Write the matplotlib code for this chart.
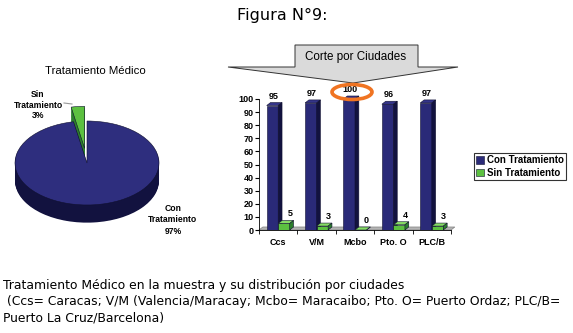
import numpy as np
import matplotlib
matplotlib.use("Agg")
import matplotlib.pyplot as plt
from matplotlib.patches import Polygon, Ellipse

# data
pie_labels = ['Sin\nTratamiento\n3%', 'Con\nTratamiento\n97%']
pie_values = [3, 97]
cities = ['Ccs', 'V/M', 'Mcbo', 'Pto. O', 'PLC/B']
con_trat = [95, 97, 100, 96, 97]
sin_trat = [5, 3, 0, 4, 3]
yticks = list(range(0, 101, 10))

W, H = 573, 333
navy, navy_side, navy_top = '#2a2a78', '#12123f', '#34348a'
pie_top = '#2e2e7e'
green, green_side, green_top = '#5cc040', '#2c7e2c', '#86dc64'

fig = plt.figure(figsize=(W / 100, H / 100), dpi=100)
fig.patch.set_facecolor('white')


def px_axes(x0, y0, x1, y1, **kw):
    return fig.add_axes([x0 / W, 1 - y1 / H, (x1 - x0) / W, (y1 - y0) / H], **kw)


# ---- 3D-looking pie ----
# 1 unit in x = 72 px, 1 unit in y = 42 px, centre at (87, 163)
pax = px_axes(87 - 1.2 * 72, 163 - 1.4 * 42, 87 + 1.2 * 72, 163 + 1.6 * 42)
explode = [0.35, 0]
for d in np.linspace(0.42, 0.02, 22):
    pax.pie(pie_values, colors=[green_side, navy_side], startangle=90, counterclock=True,
            explode=explode, center=(0, -d), radius=1,
            wedgeprops=dict(linewidth=0))
pax.pie(pie_values, colors=[green, pie_top], startangle=90, counterclock=True,
        explode=explode, center=(0, 0), radius=1,
        wedgeprops=dict(linewidth=0.4, edgecolor='#101030'))
pax.set_aspect('auto')
pax.set_xlim(-1.2, 1.2)
pax.set_ylim(-1.6, 1.4)
pax.axis('off')

# ---- 3D-looking bar chart ----
bax = px_axes(259, 99, 451, 230)
x = np.arange(len(cities))
w = 0.3
dx, dy = 0.1, 2.3

# floor
bax.add_patch(Polygon([(-0.5, 0), (4.5, 0), (4.5 + dx, dy), (-0.5 + dx, dy)],
                      closed=True, facecolor='#b4b4b4', edgecolor='#808080', lw=0.5,
                      clip_on=False, zorder=1))


def bar3d(xs, hs, front, side, top, label):
    bars = bax.bar(xs, hs, width=w, color=front, edgecolor='#101030', lw=0.4,
                   zorder=3, label=label)
    for xc, h in zip(xs, hs):
        x0, x1 = xc - w / 2, xc + w / 2
        bax.add_patch(Polygon([(x0, h), (x0 + dx, h + dy), (x1 + dx, h + dy), (x1, h)],
                              closed=True, facecolor=top, edgecolor='#101030', lw=0.4,
                              clip_on=False, zorder=3))
        bax.add_patch(Polygon([(x1, 0), (x1 + dx, dy), (x1 + dx, h + dy), (x1, h)],
                              closed=True, facecolor=side, edgecolor='#101030', lw=0.4,
                              clip_on=False, zorder=3))
    return bars


bar3d(x - w / 2, con_trat, navy, navy_side, navy_top, 'Con Tratamiento')
bar3d(x + w / 2, sin_trat, green, green_side, green_top, 'Sin Tratamiento')

for xc, h in zip(x, con_trat):
    bax.text(xc - w / 2 + 0.02, h + dy + 1.5, str(h), ha='center', va='bottom',
             fontsize=6.5, fontweight='bold', family='Liberation Sans', zorder=5)
for xc, h in zip(x, sin_trat):
    bax.text(xc + w / 2 + dx + 0.05, h + dy + 1.5, str(h), ha='center', va='bottom',
             fontsize=6.5, fontweight='bold', family='Liberation Sans', zorder=5)

bax.set_xlim(-0.5, 4.5)
bax.set_ylim(0, 100)
bax.set_yticks(yticks)
bax.set_xticks(x)
bax.set_xticklabels(cities)
bax.set_xticks(np.arange(-0.5, 5, 1), minor=True)
bax.tick_params(axis='x', which='major', length=0, pad=6)
bax.tick_params(axis='x', which='minor', length=3, direction='out')
bax.tick_params(axis='y', length=3, pad=1)
for lab in bax.get_xticklabels() + bax.get_yticklabels():
    lab.set_fontsize(6.5)
    lab.set_fontweight('bold')
    lab.set_family('Liberation Sans')
for s in ['top', 'right']:
    bax.spines[s].set_visible(False)
bax.spines['left'].set_linewidth(0.6)
bax.spines['bottom'].set_linewidth(0.6)
bax.patch.set_alpha(0)

leg = bax.legend(loc='upper left', bbox_to_anchor=(469 / W, 1 - 148 / H),
                 bbox_transform=fig.transFigure, frameon=True, fancybox=False,
                 prop=dict(family='Liberation Sans', weight='bold', size=7),
                 handlelength=0.8, handleheight=0.8, handletextpad=0.3,
                 borderpad=0.25, labelspacing=0.25)
leg.get_frame().set_edgecolor('black')
leg.get_frame().set_linewidth(0.8)

# ---- overlay for titles, callout and caption ----
ov = fig.add_axes([0, 0, 1, 1], zorder=10)
ov.set_xlim(0, W)
ov.set_ylim(H, 0)
ov.axis('off')
ov.patch.set_alpha(0)

ov.text(282, 15, 'Figura N°9:', ha='center', va='center', fontsize=11.5,
        family='DejaVu Sans')
ov.text(95, 71, 'Tratamiento Médico', ha='center', va='center', fontsize=8.2,
        family='Liberation Sans')
ov.text(38, 105, pie_labels[0], ha='center', va='center', fontsize=6.2,
        fontweight='bold', family='Liberation Sans', linespacing=1.25)
ov.text(173, 220, pie_labels[1], ha='center', va='center', fontsize=6.2,
        fontweight='bold', family='Liberation Sans', linespacing=1.3)
ov.plot([64, 72], [103, 104], color='#999999', lw=0.8)

ov.add_patch(Polygon([(228, 67), (295, 67), (295, 45), (418, 45), (418, 67),
                      (458, 67), (353, 83)], closed=True,
                     facecolor='#dadada', edgecolor='#333333', lw=0.7))
ov.text(356, 57, 'Corte por Ciudades', ha='center', va='center', fontsize=8.4,
        family='Liberation Sans')
ov.add_patch(Ellipse((352, 92), 40, 15, facecolor='none', edgecolor='#f07422', lw=2.6))

cap_font = ['Liberation Sans Narrow', 'DejaVu Sans']
ov.text(3, 285, 'Tratamiento Médico en la muestra y su distribución por ciudades',
        ha='left', va='center', fontsize=8.9, family=cap_font)
ov.text(3, 302, ' (Ccs= Caracas; V/M (Valencia/Maracay; Mcbo= Maracaibo; Pto. O= Puerto Ordaz; PLC/B=',
        ha='left', va='center', fontsize=8.9, family=cap_font)
ov.text(3, 318, 'Puerto La Cruz/Barcelona)', ha='left', va='center', fontsize=8.9,
        family=cap_font)

fig.savefig('out.png', dpi=100)
